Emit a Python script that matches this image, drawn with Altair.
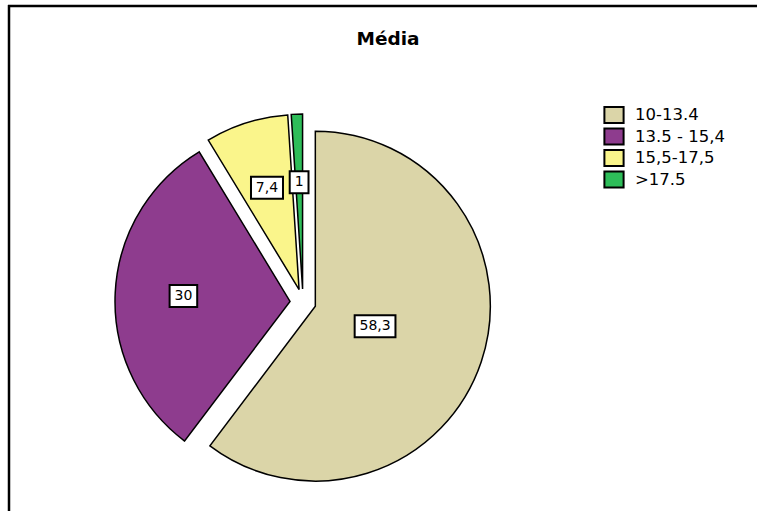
import altair as alt
import pandas as pd

# ---- data ----
categories = ["10-13.4", "13.5 - 15,4", "15,5-17,5", ">17.5"]
values = [58.3, 30.0, 7.4, 1.0]
labels = ["58,3", "30", "7,4", "1"]
colors = ["#DBD5A8", "#8E3C8E", "#FAF58B", "#2EBD59"]
title_text = "Média"

df = pd.DataFrame({
    "category": categories,
    "value": values,
    "label": labels,
    "idx": list(range(len(categories))),
})

R = 175          # pie radius (px)
CX, CY = 303, 302  # pie centre (px)
EXPLODE = 13     # explode distance (px)

base = (
    alt.Chart(df)
    .transform_joinaggregate(total="sum(value)")
    .transform_window(cum="sum(value)", frame=[None, 0], sort=[alt.SortField("idx")])
    .transform_calculate(
        t0="2*PI*(datum.cum-datum.value)/datum.total",
        t1="2*PI*datum.cum/datum.total",
    )
    .transform_calculate(mid="(datum.t0+datum.t1)/2")
    .transform_calculate(
        cx=f"{CX} + {EXPLODE}*sin(datum.mid)",
        cy=f"{CY} - {EXPLODE}*cos(datum.mid)",
        rl="datum.value/datum.total > 0.5 ? 0.36 : 0.61",
    )
    .transform_calculate(
        lx=f"datum.cx + datum.rl*{R}*sin(datum.mid)",
        ly=f"datum.cy - datum.rl*{R}*cos(datum.mid)",
        bw='10 + 8.8*length(replace(datum.label, ",", "")) + 4.4*(length(datum.label) - length(replace(datum.label, ",", "")))',
    )
    .transform_calculate(
        bx0="datum.lx - datum.bw/2",
        bx1="datum.lx + datum.bw/2",
        by0="datum.ly - 11",
        by1="datum.ly + 11",
    )
)

arcs = base.mark_arc(radius=R, stroke="black", strokeWidth=1.5).encode(
    theta=alt.Theta("t0:Q", scale=None, stack=False),
    theta2="t1:Q",
    x=alt.X("cx:Q", scale=None),
    y=alt.Y("cy:Q", scale=None),
    color=alt.Color(
        "category:N",
        scale=alt.Scale(domain=categories, range=colors),
        sort=categories,
        legend=alt.Legend(
            title=None,
            orient="none",
            legendX=605,
            legendY=106,
            symbolType="M-1.2,-1H1.2V1H-1.2Z",
            symbolSize=256,
            symbolStrokeColor="black",
            symbolStrokeWidth=2,
            symbolOpacity=1,
            labelFont="DejaVu Sans",
            labelFontSize=16.5,
            labelColor="black",
            labelOffset=12,
            rowPadding=-2.5,
        ),
    ),
)

boxes = base.mark_rect(fill="white", stroke="black", strokeWidth=2).encode(
    x=alt.X("bx0:Q", scale=None),
    x2="bx1:Q",
    y=alt.Y("by0:Q", scale=None),
    y2="by1:Q",
)

texts = base.mark_text(
    font="DejaVu Sans", fontSize=14, color="black", align="center", baseline="middle"
).encode(
    x=alt.X("lx:Q", scale=None),
    y=alt.Y("ly:Q", scale=None),
    text="label:N",
)

title = alt.Chart(pd.DataFrame({"t": [title_text]})).mark_text(
    font="DejaVu Sans", fontSize=18.5, fontWeight="bold", color="black",
    align="center", baseline="alphabetic",
).encode(x=alt.value(388), y=alt.value(45), text="t:N")

frame_df = pd.DataFrame({"k": [0]})
top_line = alt.Chart(frame_df).mark_rule(color="black", strokeWidth=2.5).encode(
    x=alt.value(8), x2=alt.value(757), y=alt.value(6)
)
left_line = alt.Chart(frame_df).mark_rule(color="black", strokeWidth=2.5).encode(
    x=alt.value(9), y=alt.value(5), y2=alt.value(511)
)

chart = (
    alt.layer(arcs, boxes, texts, title, top_line, left_line)
    .properties(
        width=758,
        height=511,
        autosize=alt.AutoSizeParams(type="none"),
        padding=0,
    )
    .configure_view(stroke="transparent")
)

chart.save("out.html", embed_options={"renderer": "svg", "actions": False})
